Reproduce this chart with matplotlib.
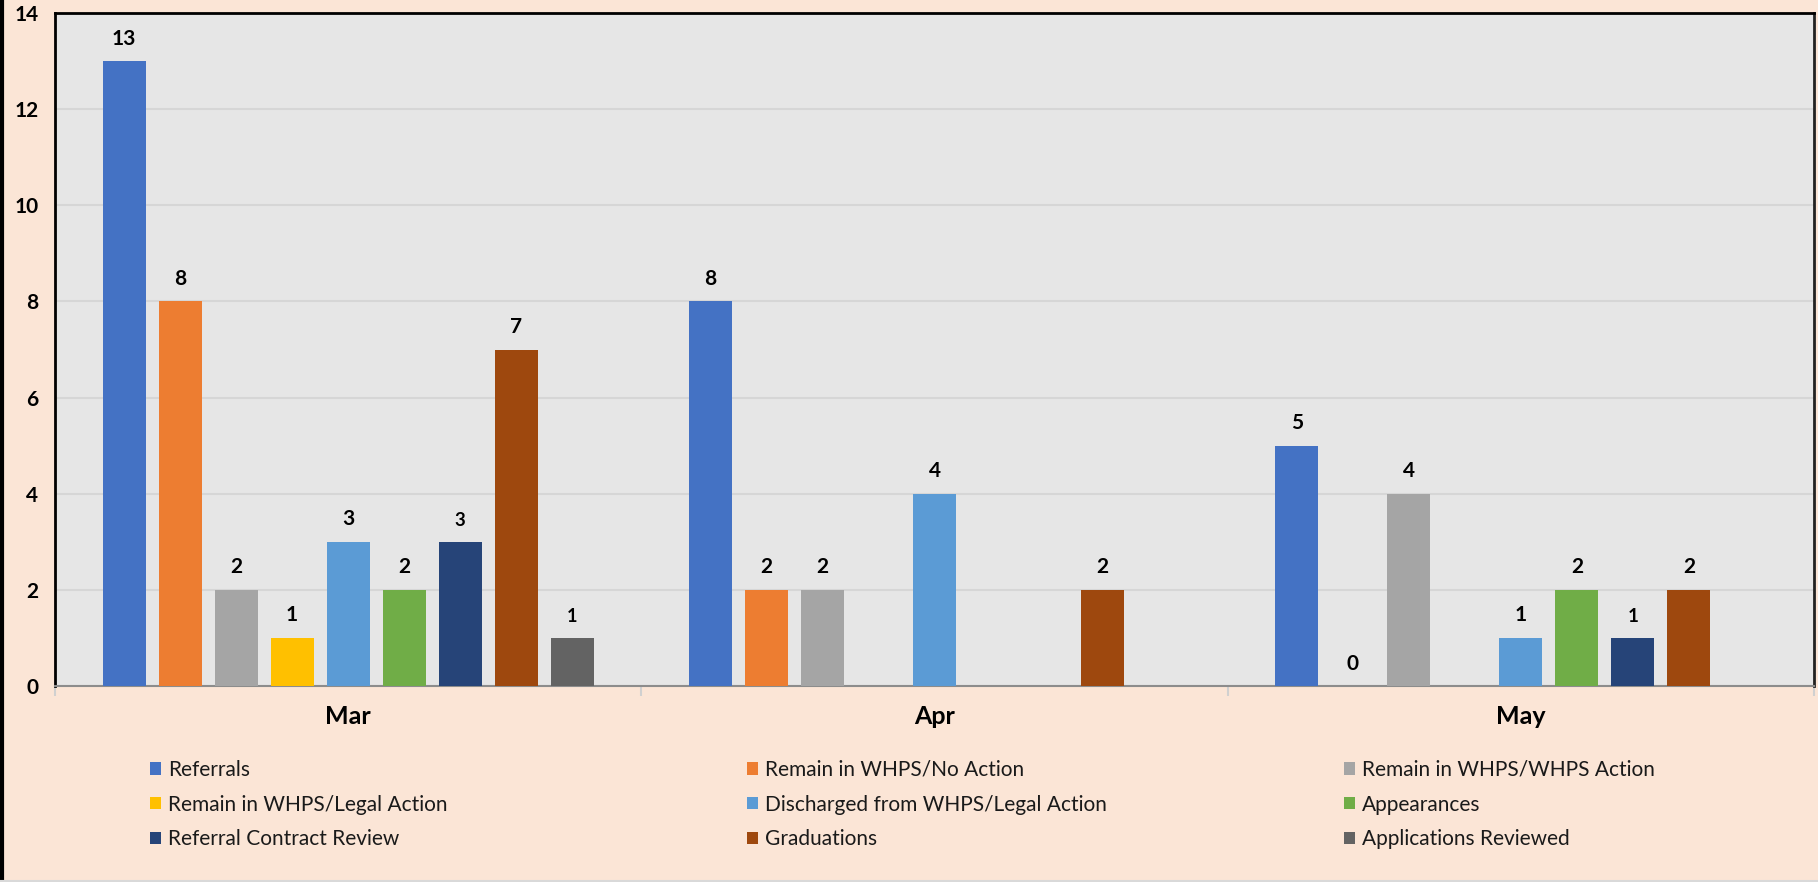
import numpy as np
import matplotlib
matplotlib.use("Agg")
import matplotlib.pyplot as plt
from matplotlib.patches import Patch
from matplotlib.lines import Line2D

plt.rcParams['font.family'] = ['Lato', 'DejaVu Sans']

months = ["Mar", "Apr", "May"]
series_names = [
    "Referrals",
    "Remain in WHPS/No Action",
    "Remain in WHPS/WHPS Action",
    "Remain in WHPS/Legal Action",
    "Discharged from WHPS/Legal Action",
    "Appearances",
    "Referral Contract Review",
    "Graduations",
    "Applications Reviewed",
]
nan = np.nan
referrals = [13, 8, 5]
no_action = [8, 2, 0]
whps_action = [2, 2, 4]
legal_action = [1, nan, nan]
discharged = [3, 4, 1]
appearances = [2, nan, 2]
contract_review = [3, nan, 1]
graduations = [7, 2, 2]
apps_reviewed = [1, nan, nan]
series_values = [referrals, no_action, whps_action, legal_action, discharged,
                 appearances, contract_review, graduations, apps_reviewed]

colors = ['#4472C4', '#ED7D31', '#A5A5A5', '#FFC000', '#5B9BD5',
          '#70AD47', '#264478', '#9E480E', '#636363']
label_sizes = [15, 15, 15, 15, 15, 15, 13.5, 15, 13]

FIG_BG = '#FBE5D6'
PLOT_BG = '#E6E6E6'

fig = plt.figure(figsize=(18.18, 8.82), dpi=100, facecolor=FIG_BG)
ax = fig.add_axes([55 / 1818, 1 - 686 / 882, (1814 - 55) / 1818, (686 - 13) / 882])
ax.set_facecolor(PLOT_BG)

x = np.arange(len(months))
bar_w = 43 / 586
step = 56 / 586
n = len(series_names)
for i, (vals, c) in enumerate(zip(series_values, colors)):
    offs = (i - (n - 1) / 2) * step
    v = np.array(vals, dtype=float)
    bars = ax.bar(x + offs, np.nan_to_num(v), bar_w, color=c, zorder=3)
    labels = ['' if np.isnan(val) else '{:g}'.format(val) for val in v]
    ax.bar_label(bars, labels=labels, padding=9, fontsize=label_sizes[i],
                 fontweight='bold', color='black')

ax.set_xlim(-0.5, 2.5)
ax.set_ylim(0, 14)
ax.set_yticks(np.arange(0, 15, 2))
ax.yaxis.grid(True, color='#D6D6D6', linewidth=1.5, zorder=0)
ax.set_axisbelow(True)
ax.tick_params(axis='y', length=0, pad=12, labelsize=15)
for lab in ax.get_yticklabels():
    lab.set_fontweight('bold')

ax.set_xticks(x)
ax.set_xticklabels(months, fontsize=18, fontweight='bold')
ax.tick_params(axis='x', length=0, pad=14)
ax.set_xticks([-0.5, 0.5, 1.5, 2.5], minor=True)
ax.tick_params(axis='x', which='minor', length=7, color='#D0D0D0', width=1.5, direction='out')

for side in ['left', 'top', 'right']:
    ax.spines[side].set_color('black')
    ax.spines[side].set_linewidth(2)
ax.spines['right'].set_color('#222222')
ax.spines['bottom'].set_color('#8C8C8C')
ax.spines['bottom'].set_linewidth(1.5)

# legend: three columns placed like the reference, filled row by row
col_x = [150 / 1818, 747 / 1818, 1344 / 1818]
for col in range(3):
    idx = [col, col + 3, col + 6]
    handles = [Patch(facecolor=colors[k], edgecolor='none') for k in idx]
    leg = fig.legend(handles, [series_names[k] for k in idx],
                     loc='upper left', bbox_to_anchor=(col_x[col], 1 - 760 / 882),
                     frameon=False, fontsize=15, handlelength=0.55, handleheight=0.55,
                     handletextpad=0.3, labelspacing=0.7, borderpad=0, borderaxespad=0)
    for t in leg.get_texts():
        t.set_color('#1a1a1a')

# left edge line of the chart frame
fig.add_artist(Line2D([0.001, 0.001], [0, 1], transform=fig.transFigure,
                      color='black', linewidth=3))
fig.add_artist(Line2D([0, 1], [0.001, 0.001], transform=fig.transFigure,
                      color='#D9D9D9', linewidth=1.5))

fig.savefig("out.png", dpi=100, facecolor=FIG_BG)
